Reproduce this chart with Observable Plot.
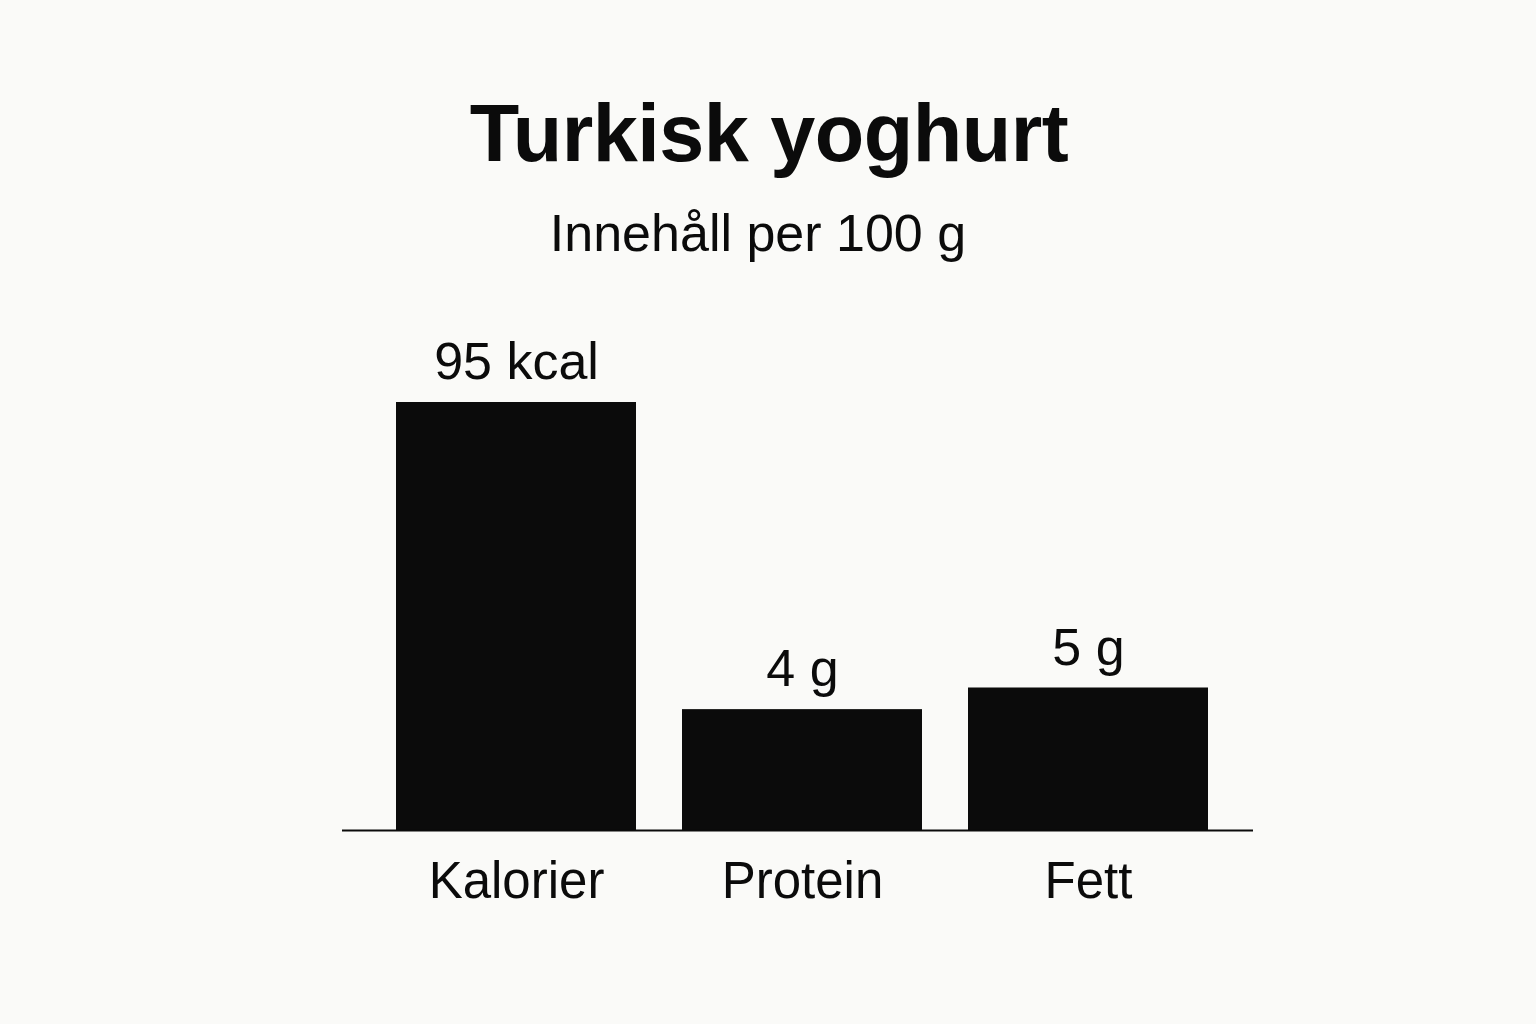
<!DOCTYPE html>
<html>
<head>
<meta charset="utf-8">
<script src="https://cdn.jsdelivr.net/npm/d3@7"></script>
<script src="https://cdn.jsdelivr.net/npm/@observablehq/plot@0.6"></script>
<style>
  html, body { margin: 0; padding: 0; background: #fafaf8; width: 1536px; height: 1024px; overflow: hidden; }
  body { font-family: "Liberation Sans", Arial, Helvetica, sans-serif; color: #0b0b0b; position: relative; }
  #title { position: absolute; left: 0; width: 1536px; top: 93px; text-align: center; font-weight: bold; font-size: 81px; line-height: 1; letter-spacing: -0.5px; padding-left: 2px; box-sizing: border-box; }
  #subtitle { position: absolute; left: 0; width: 1536px; top: 207px; text-align: center; font-size: 52px; line-height: 1; padding-right: 20px; box-sizing: border-box; }
  #chart { position: absolute; left: 0; top: 280px; }
</style>
</head>
<body>
<div id="title">Turkisk yoghurt</div>
<div id="subtitle">Innehåll per 100 g</div>
<div id="chart"></div>
<script>
const categories = ["Kalorier", "Protein", "Fett"];
const values = [95, 4, 5];
const units = ["kcal", "g", "g"];

const data = categories.map((c, i) => ({category: c, value: values[i], label: `${values[i]} ${units[i]}`}));
const yMin = 1.15;

const chart = Plot.plot({
  width: 1536,
  height: 680,
  marginLeft: 342,
  marginRight: 283,
  marginTop: 122,
  marginBottom: 130,
  style: {background: "transparent", fontFamily: "'Liberation Sans', Arial, sans-serif", color: "#0b0b0b"},
  x: {domain: categories, paddingInner: 0.16, paddingOuter: 0.17, align: 0.55, axis: null},
  y: {type: "log", domain: [yMin, 95], axis: null},
  marks: [
    Plot.barY(data, {x: "category", y1: () => yMin, y2: "value", fill: "#0b0b0b"}),
    Plot.ruleY([yMin], {stroke: "#0b0b0b", strokeWidth: 2}),
    Plot.text(data, {x: "category", y: "value", text: "label", dy: -40, fontSize: 52, fill: "#0b0b0b"}),
    Plot.axisX({tickSize: 0, tickPadding: 31, fontSize: 51, label: null, fill: "#0b0b0b"})
  ]
});
document.getElementById("chart").appendChild(chart);
</script>
</body>
</html>
